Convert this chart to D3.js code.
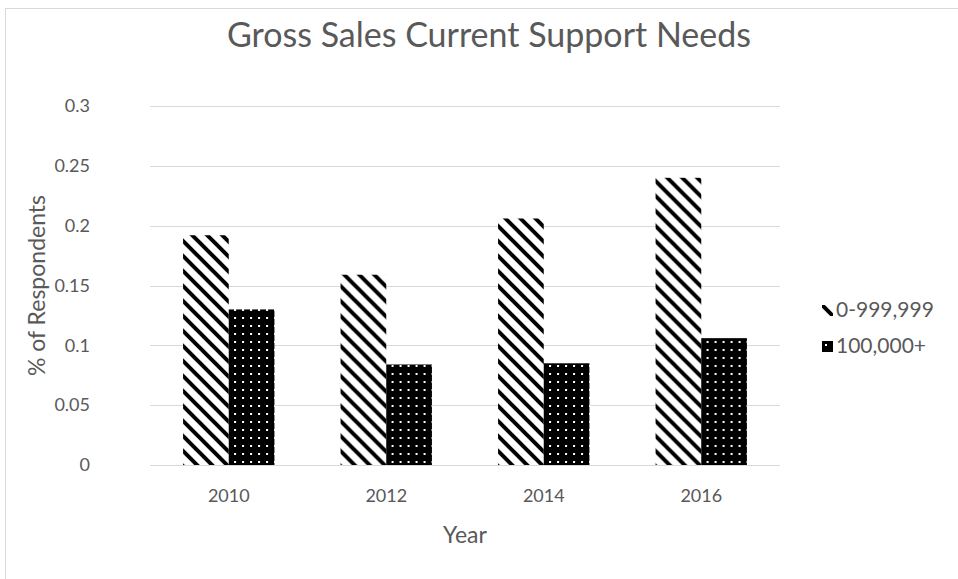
<!DOCTYPE html>
<html>
<head>
<meta charset='utf-8'>
<style>
body { margin: 0; background: #fff; }
text { font-family: Lato, 'Open Sans', sans-serif; fill: #595959; }
.grid line { stroke: #d9d9d9; stroke-width: 1; }
</style>
<script src='https://d3js.org/d3.v7.min.js'></script>
</head>
<body>
<svg id='chart' width='958' height='579'></svg>
<script>
// data
var years = ['2010', '2012', '2014', '2016'];
var seriesNames = ['0-999,999', '100,000+'];
var smallSales = [0.192, 0.159, 0.206, 0.240];
var bigSales = [0.130, 0.084, 0.085, 0.106];
var yTicks = [0, 0.05, 0.1, 0.15, 0.2, 0.25, 0.3];

var svg = d3.select('#chart');
var margin = {top: 106, right: 178, bottom: 114, left: 150};
var width = +svg.attr('width') - margin.left - margin.right;
var height = +svg.attr('height') - margin.top - margin.bottom;

// chart frame
svg.append('rect').
    attr('x', 5.5).attr('y', 8.5).
    attr('width', 960).attr('height', 600).
    attr('fill', 'none').attr('stroke', '#d9d9d9');

// fill patterns
var defs = svg.append('defs');
var hatch = defs.append('pattern').
    attr('id', 'hatch').
    attr('patternUnits', 'userSpaceOnUse').
    attr('width', 15).attr('height', 15);
hatch.append('rect').attr('width', 15).attr('height', 15).attr('fill', '#fff');
hatch.append('path').
    attr('d', 'M-4,-4L19,19M-4,11L4,19M11,-4L19,4').
    attr('stroke', '#000').attr('stroke-width', 4);

var dots = defs.append('pattern').
    attr('id', 'dots').
    attr('patternUnits', 'userSpaceOnUse').
    attr('width', 8).attr('height', 8);
dots.append('rect').attr('width', 8).attr('height', 8).attr('fill', '#000');
dots.append('rect').attr('x', 3).attr('y', 3).attr('width', 2).attr('height', 2).attr('fill', '#fff');

var fills = ['url(#hatch)', 'url(#dots)'];

var g = svg.append('g').attr('transform',
    'translate(' + margin.left + ',' + margin.top + ')');

var x0 = d3.scaleBand().domain(years).range([0, width]).paddingInner(0.42).paddingOuter(0.21);
var x1 = d3.scaleBand().domain(seriesNames).range([0, x0.bandwidth()]);
var y = d3.scaleLinear().domain([0, 0.3]).range([height, 0]);

// gridlines
g.append('g').attr('class', 'grid').
    selectAll('line').data(yTicks).enter().append('line').
    attr('x1', 0).attr('x2', width).
    attr('y1', function(d) { return Math.round(y(d)) + 0.5; }).
    attr('y2', function(d) { return Math.round(y(d)) + 0.5; });

// y axis labels
var yAxis = g.append('g').call(d3.axisLeft(y).tickValues(yTicks).tickSize(0).tickPadding(60).
    tickFormat(function(d) { return String(d); }));
yAxis.select('.domain').remove();
yAxis.selectAll('text').attr('font-size', 18).style('font-family', null);

// x axis labels
var xAxis = g.append('g').attr('transform', 'translate(0,' + height + ')').
    call(d3.axisBottom(x0).tickSize(0).tickPadding(24));
xAxis.select('.domain').remove();
xAxis.selectAll('text').attr('font-size', 18).style('font-family', null);

// bars
var rows = years.map(function(yr, i) { return {year: yr, vals: [smallSales[i], bigSales[i]]}; });
g.append('g').selectAll('g').data(rows).enter().append('g').
    attr('transform', function(d) { return 'translate(' + x0(d.year) + ',0)'; }).
  selectAll('rect').data(function(d) {
      return d.vals.map(function(v, j) { return {name: seriesNames[j], value: v, j: j}; });
    }).enter().append('rect').
    attr('x', function(d) { return x1(d.name); }).
    attr('y', function(d) { return y(d.value); }).
    attr('width', x1.bandwidth()).
    attr('height', function(d) { return height - y(d.value); }).
    attr('fill', function(d) { return fills[d.j]; });

// title
svg.append('text').
    attr('x', margin.left + width / 2 + 24).attr('y', 47).
    attr('text-anchor', 'middle').attr('font-size', 34).
    text('Gross Sales Current Support Needs');

// axis titles
svg.append('text').
    attr('x', margin.left + width / 2).attr('y', 543).
    attr('text-anchor', 'middle').attr('font-size', 23).
    text('Year');
svg.append('text').
    attr('transform', 'translate(45,' + (margin.top + height / 2) + ') rotate(-90)').
    attr('text-anchor', 'middle').attr('font-size', 23).
    text('% of Respondents');

// legend
var legend = svg.append('g').attr('transform', 'translate(822,305)');
var item = legend.selectAll('g').data(seriesNames).enter().append('g').
    attr('transform', function(d, i) { return 'translate(0,' + (i * 36) + ')'; });
item.append('rect').attr('width', 11).attr('height', 11).
    attr('fill', function(d, i) { return fills[i]; });
item.append('text').attr('x', 14).attr('y', 12).attr('font-size', 21).
    text(function(d) { return d; });
</script>
</body>
</html>
